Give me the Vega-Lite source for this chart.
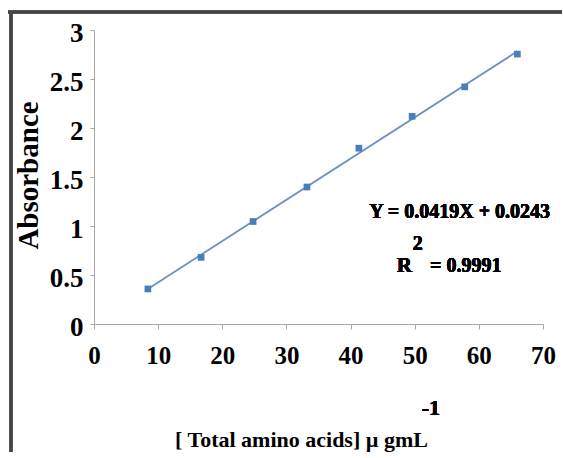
{
  "$schema": "https://vega.github.io/schema/vega-lite/v6.json",
  "width": 449,
  "height": 294,
  "autosize": {"type": "none"},
  "padding": {"left": 94, "top": 30, "right": 19, "bottom": 128},
  "background": "white",
  "config": {
    "view": {"stroke": null},
    "font": "Liberation Serif",
    "axis": {"grid": false}
  },
  "data": {
    "values": [
      {"conc": 8.4, "absorbance": 0.358},
      {"conc": 16.7, "absorbance": 0.68},
      {"conc": 24.8, "absorbance": 1.046},
      {"conc": 33.2, "absorbance": 1.398},
      {"conc": 41.3, "absorbance": 1.794},
      {"conc": 49.6, "absorbance": 2.119},
      {"conc": 57.8, "absorbance": 2.42},
      {"conc": 66.0, "absorbance": 2.754}
    ]
  },
  "layer": [
    {
      "mark": {"type": "line", "color": "#6d93c3", "strokeWidth": 1.8},
      "transform": [{"regression": "absorbance", "on": "conc"}],
      "encoding": {
        "x": {
          "field": "conc",
          "type": "quantitative",
          "scale": {"domain": [0, 70], "nice": false, "zero": false},
          "axis": {
            "values": [0, 10, 20, 30, 40, 50, 60, 70],
            "title": "[ Total amino acids]  µ gmL",
            "titleFont": "Liberation Serif",
            "titleFontWeight": "bold",
            "titleFontSize": 22,
            "titleColor": "black",
            "titleX": 207,
            "titleY": 122,
            "titleAlign": "center",
            "titleBaseline": "alphabetic",
            "labelFont": "Liberation Serif",
            "labelFontWeight": "bold",
            "labelFontSize": 25,
            "labelColor": "black",
            "labelFlush": false,
            "labelPadding": 14,
            "labelOverlap": false,
            "domainColor": "#a8a8a8",
            "tickColor": "#a8a8a8",
            "tickSize": 5
          }
        },
        "y": {
          "field": "absorbance",
          "type": "quantitative",
          "scale": {"domain": [0, 3], "nice": false, "zero": false},
          "axis": {
            "values": [0, 0.5, 1, 1.5, 2, 2.5, 3],
            "format": "~g",
            "title": "Absorbance",
            "titleFont": "Liberation Serif",
            "titleFontWeight": "bold",
            "titleFontSize": 29,
            "titleColor": "black",
            "titleAngle": -90,
            "titleX": -66,
            "titleY": 145,
            "titleAlign": "center",
            "titleBaseline": "middle",
            "labelFont": "Liberation Serif",
            "labelFontWeight": "bold",
            "labelFontSize": 27,
            "labelColor": "black",
            "labelPadding": 7,
            "labelOffset": 3,
            "labelFlush": false,
            "labelOverlap": false,
            "domainColor": "#a8a8a8",
            "tickColor": "#a8a8a8",
            "tickSize": 4
          }
        }
      }
    },
    {
      "mark": {"type": "square", "color": "#4a7ebb", "size": 45, "opacity": 1, "filled": true},
      "encoding": {
        "x": {"field": "conc", "type": "quantitative"},
        "y": {"field": "absorbance", "type": "quantitative"}
      }
    },
    {
      "mark": {"type": "text", "font": "Liberation Serif", "fontWeight": "bold", "fontSize": 20, "align": "left", "baseline": "alphabetic", "color": "black"},
      "encoding": {
        "x": {"datum": 42.9},
        "y": {"datum": 1.082},
        "text": {"value": "Y = 0.0419X + 0.0243"}
      }
    },
    {
      "mark": {"type": "text", "font": "Liberation Serif", "fontWeight": "bold", "fontSize": 21, "align": "left", "baseline": "alphabetic", "color": "black"},
      "encoding": {
        "x": {"datum": 47.2},
        "y": {"datum": 0.534},
        "text": {"value": "R"}
      }
    },
    {
      "mark": {"type": "text", "font": "Liberation Serif", "fontWeight": "bold", "fontSize": 20, "align": "left", "baseline": "alphabetic", "color": "black"},
      "encoding": {
        "x": {"datum": 49.7},
        "y": {"datum": 0.755},
        "text": {"value": "2"}
      }
    },
    {
      "mark": {"type": "text", "font": "Liberation Serif", "fontWeight": "bold", "fontSize": 20, "align": "left", "baseline": "alphabetic", "color": "black"},
      "encoding": {
        "x": {"datum": 52.4},
        "y": {"datum": 0.534},
        "text": {"value": "= 0.9991"}
      }
    },
    {
      "mark": {"type": "text", "font": "Liberation Serif", "fontWeight": "bold", "fontSize": 22, "align": "left", "baseline": "alphabetic", "color": "black"},
      "encoding": {
        "x": {"datum": 51.1},
        "y": {"datum": -0.93},
        "text": {"value": "-1"}
      }
    },
    {
      "mark": {"type": "rule", "color": "#444444", "strokeWidth": 2.5},
      "encoding": {
        "x": {"datum": -13.4},
        "x2": {"datum": 73.05},
        "y": {"datum": 3.184}
      }
    },
    {
      "mark": {"type": "rule", "color": "#444444", "strokeWidth": 2.5},
      "encoding": {
        "x": {"datum": -12.94},
        "y": {"datum": 3.184},
        "y2": {"datum": -1.37}
      }
    }
  ]
}
